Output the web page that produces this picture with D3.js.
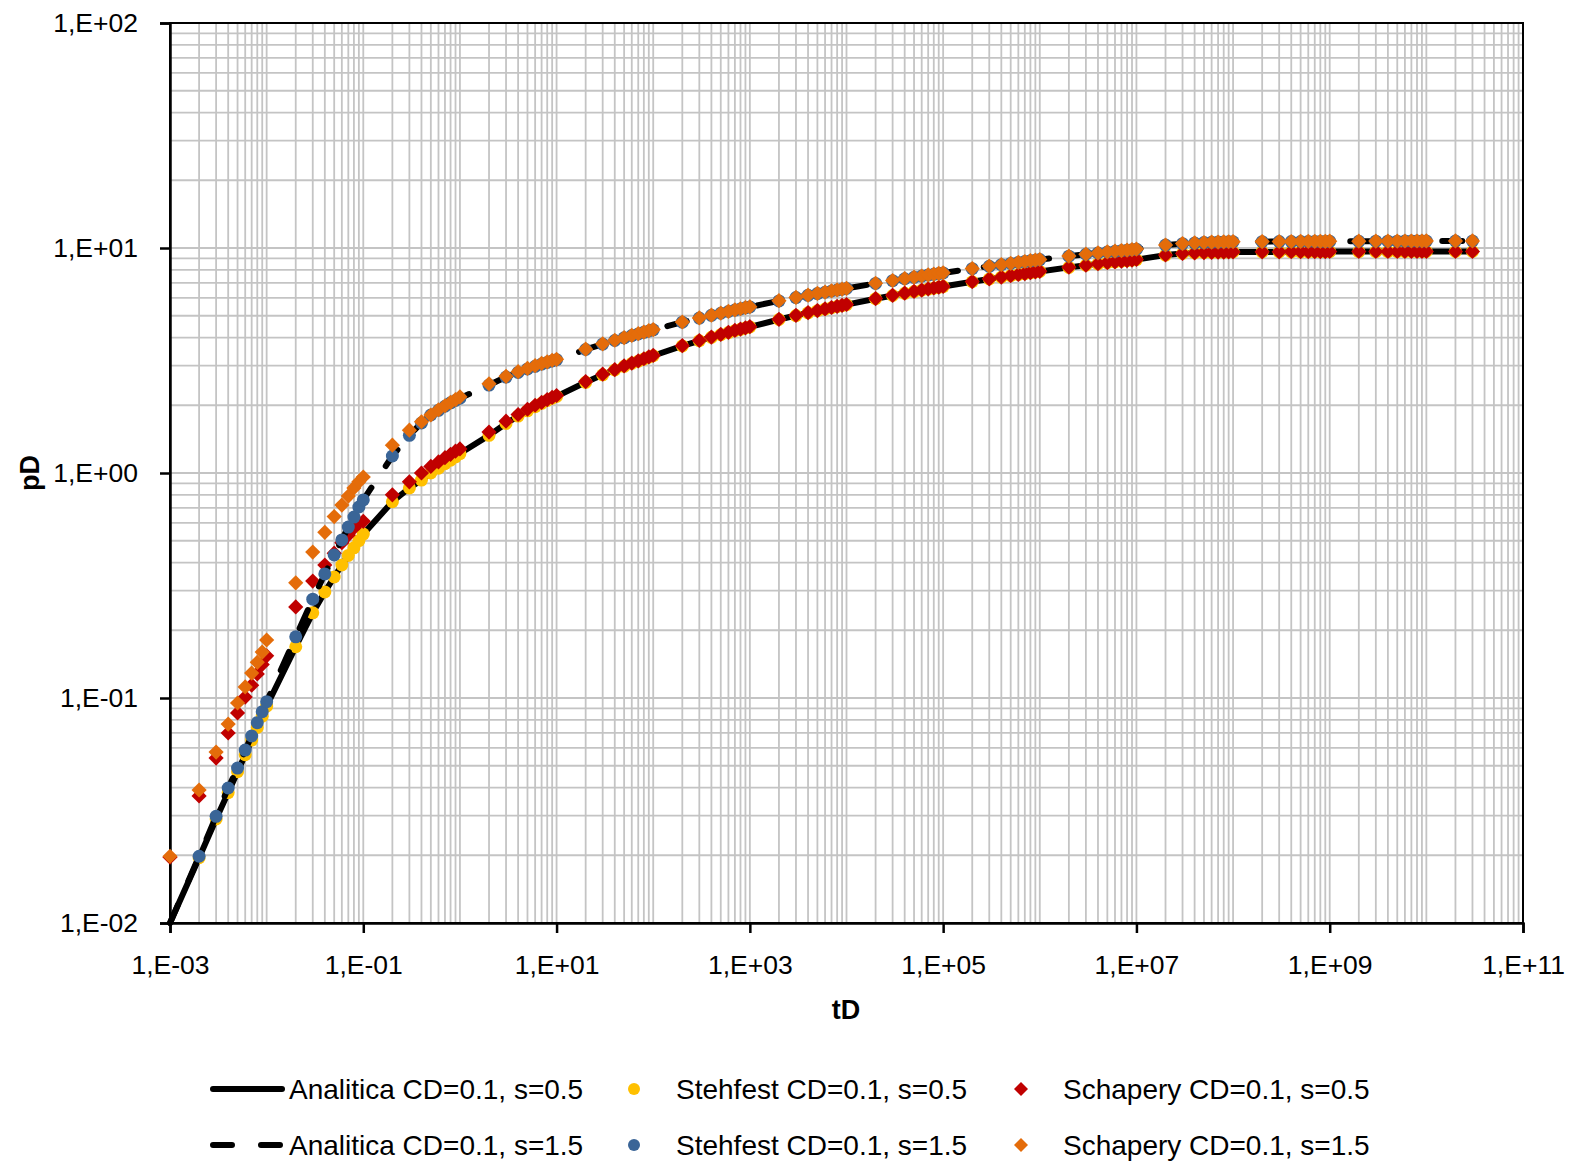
<!DOCTYPE html>
<html><head><meta charset="utf-8">
<script src="https://cdn.jsdelivr.net/npm/d3@7"></script>
<style>
body{margin:0;background:#fff}
svg{display:block}
text{font-family:'Liberation Sans',Arial,sans-serif;fill:#000}
</style></head>
<body><svg id="c" width="1577" height="1163"></svg>
<script>
// ---------- DATA ----------
const tD = [
 0.001,0.002,0.003,0.004,0.005,0.006,0.007,0.008,0.009,
 0.01,0.02,0.03,0.04,0.05,0.06,0.07,0.08,0.09,
 0.1,0.2,0.3,0.4,0.5,0.6,0.7,0.8,0.9,
 1,2,3,4,5,6,7,8,9,
 10,20,30,40,50,60,70,80,90,
 100,200,300,400,500,600,700,800,900,
 1e3,2e3,3e3,4e3,5e3,6e3,7e3,8e3,9e3,
 1e4,2e4,3e4,4e4,5e4,6e4,7e4,8e4,9e4,
 1e5,2e5,3e5,4e5,5e5,6e5,7e5,8e5,9e5,
 1e6,2e6,3e6,4e6,5e6,6e6,7e6,8e6,9e6,
 1e7,2e7,3e7,4e7,5e7,6e7,7e7,8e7,9e7,
 1e8,2e8,3e8,4e8,5e8,6e8,7e8,8e8,9e8,
 1e9,2e9,3e9,4e9,5e9,6e9,7e9,8e9,9e9,
 1e10,2e10,3e10
];

const analitica05 = [
 0.01,0.0195,0.029,0.038,0.047,0.056,0.065,0.074,0.083,
 0.092,0.169,0.239,0.296,0.345,0.39,0.43,0.465,0.50,
 0.535,0.745,0.858,0.93,1.0,1.05,1.10,1.14,1.18,
 1.22,1.47,1.66,1.79,1.89,1.97,2.04,2.10,2.15,
 2.19,2.53,2.73,2.87,2.98,3.07,3.14,3.21,3.27,
 3.32,3.67,3.87,4.01,4.12,4.21,4.29,4.35,4.41,
 4.46,4.81,5.01,5.15,5.26,5.35,5.43,5.49,5.55,
 5.60,5.95,6.15,6.29,6.40,6.49,6.57,6.63,6.69,
 6.74,7.08,7.28,7.42,7.53,7.62,7.69,7.76,7.82,
 7.87,8.20,8.38,8.50,8.60,8.67,8.73,8.78,8.83,
 8.88,9.30,9.45,9.50,9.53,9.55,9.57,9.58,9.59,
 9.60,9.61,9.61,9.62,9.62,9.62,9.63,9.63,9.63,
 9.64,9.64,9.64,9.64,9.64,9.64,9.65,9.65,9.65,
 9.65,9.65,9.65
];
const analitica15 = [
 0.01,0.0198,0.0298,0.0398,0.0488,0.0587,0.0678,0.0777,0.0869,
 0.0963,0.187,0.275,0.356,0.432,0.504,0.575,0.637,0.706,
 0.759,1.19,1.47,1.67,1.81,1.90,1.98,2.05,2.10,
 2.15,2.46,2.67,2.80,2.90,2.98,3.05,3.10,3.15,
 3.19,3.54,3.74,3.88,3.99,4.08,4.15,4.22,4.28,
 4.33,4.68,4.88,5.02,5.13,5.22,5.30,5.36,5.42,
 5.47,5.82,6.02,6.16,6.27,6.36,6.44,6.50,6.56,
 6.61,6.96,7.16,7.30,7.41,7.50,7.58,7.64,7.70,
 7.75,8.09,8.29,8.43,8.54,8.63,8.70,8.77,8.83,
 8.88,9.20,9.38,9.50,9.60,9.67,9.73,9.78,9.83,
 9.88,10.30,10.45,10.52,10.57,10.60,10.62,10.64,10.65,
 10.66,10.67,10.68,10.68,10.69,10.69,10.70,10.70,10.70,
 10.71,10.71,10.72,10.72,10.72,10.73,10.73,10.73,10.73,
 10.74,10.74,10.74
];
const stehfest05 = [
 null,0.0195,0.029,0.038,0.047,0.056,0.065,0.074,0.083,
 0.092,0.169,0.239,0.296,0.345,0.39,0.43,0.465,0.50,
 0.535,0.745,0.858,0.93,1.0,1.05,1.10,1.14,1.18,
 1.22,1.47,1.66,1.79,1.89,1.97,2.04,2.10,2.15,
 2.19,2.53,2.73,2.87,2.98,3.07,3.14,3.21,3.27,
 3.32,3.67,3.87,4.01,4.12,4.21,4.29,4.35,4.41,
 4.46,4.81,5.01,5.15,5.26,5.35,5.43,5.49,5.55,
 5.60,5.95,6.15,6.29,6.40,6.49,6.57,6.63,6.69,
 6.74,7.08,7.28,7.42,7.53,7.62,7.69,7.76,7.82,
 7.87,8.20,8.38,8.50,8.60,8.67,8.73,8.78,8.83,
 8.88,9.30,9.45,9.50,9.53,9.55,9.57,9.58,9.59,
 9.60,9.61,9.61,9.62,9.62,9.62,9.63,9.63,9.63,
 9.64,9.64,9.64,9.64,9.64,9.64,9.65,9.65,9.65,
 9.65,9.65,9.65
];
const stehfest15 = [
 null,0.0198,0.0298,0.0398,0.0488,0.0587,0.0678,0.0777,0.0869,
 0.0963,0.187,0.275,0.356,0.432,0.504,0.575,0.637,0.706,
 0.759,1.19,1.47,1.67,1.81,1.90,1.98,2.05,2.10,
 2.15,2.46,2.67,2.80,2.90,2.98,3.05,3.10,3.15,
 3.19,3.54,3.74,3.88,3.99,4.08,4.15,4.22,4.28,
 4.33,4.68,4.88,5.02,5.13,5.22,5.30,5.36,5.42,
 5.47,5.82,6.02,6.16,6.27,6.36,6.44,6.50,6.56,
 6.61,6.96,7.16,7.30,7.41,7.50,7.58,7.64,7.70,
 7.75,8.09,8.29,8.43,8.54,8.63,8.70,8.77,8.83,
 8.88,9.20,9.38,9.50,9.60,9.67,9.73,9.78,9.83,
 9.88,10.30,10.45,10.52,10.57,10.60,10.62,10.64,10.65,
 10.66,10.67,10.68,10.68,10.69,10.69,10.70,10.70,10.70,
 10.71,10.71,10.72,10.72,10.72,10.73,10.73,10.73,10.73,
 10.74,10.74,10.74
];
const schapery05 = [
 0.0196,0.0367,0.0541,0.0699,0.0858,0.101,0.114,0.128,0.141,
 0.154,0.254,0.331,0.39,0.44,0.49,0.53,0.57,0.60,
 0.61,0.80,0.914,1.0,1.07,1.12,1.17,1.21,1.25,
 1.28,1.52,1.70,1.82,1.92,2.00,2.06,2.12,2.17,
 2.21,2.55,2.75,2.88,2.99,3.08,3.15,3.22,3.28,
 3.33,3.68,3.88,4.02,4.13,4.22,4.30,4.36,4.42,
 4.47,4.82,5.02,5.16,5.27,5.36,5.44,5.50,5.56,
 5.61,5.96,6.16,6.30,6.41,6.50,6.58,6.64,6.70,
 6.75,7.09,7.29,7.43,7.54,7.63,7.70,7.77,7.83,
 7.88,8.21,8.39,8.51,8.61,8.68,8.74,8.79,8.84,
 8.89,9.31,9.46,9.51,9.54,9.56,9.58,9.59,9.60,
 9.61,9.62,9.62,9.63,9.63,9.63,9.64,9.64,9.64,
 9.65,9.65,9.65,9.65,9.65,9.65,9.66,9.66,9.66,
 9.66,9.66,9.66
];
const schapery15 = [
 0.0198,0.039,0.0575,0.0766,0.095,0.112,0.129,0.144,0.160,
 0.181,0.325,0.445,0.545,0.64,0.72,0.79,0.858,0.914,
 0.96,1.33,1.55,1.69,1.81,1.91,1.99,2.06,2.12,
 2.18,2.49,2.69,2.82,2.92,3.00,3.07,3.12,3.17,
 3.20,3.55,3.75,3.89,4.00,4.09,4.16,4.23,4.29,
 4.34,4.69,4.89,5.03,5.14,5.23,5.31,5.37,5.43,
 5.48,5.83,6.03,6.17,6.28,6.37,6.45,6.51,6.57,
 6.62,6.97,7.17,7.31,7.42,7.51,7.59,7.65,7.71,
 7.76,8.10,8.30,8.44,8.55,8.64,8.71,8.78,8.84,
 8.89,9.21,9.39,9.51,9.61,9.68,9.74,9.79,9.84,
 9.89,10.31,10.46,10.53,10.58,10.61,10.63,10.65,10.66,
 10.67,10.68,10.69,10.69,10.70,10.70,10.71,10.71,10.71,
 10.72,10.72,10.73,10.73,10.73,10.74,10.74,10.74,10.74,
 10.75,10.75,10.75
];

const xTickValues = [1e-3,1e-1,1e1,1e3,1e5,1e7,1e9,1e11];
const xTickLabels = ["1,E-03","1,E-01","1,E+01","1,E+03","1,E+05","1,E+07","1,E+09","1,E+11"];
const yTickValues = [1e-2,1e-1,1e0,1e1,1e2];
const yTickLabels = ["1,E-02","1,E-01","1,E+00","1,E+01","1,E+02"];

const seriesNames = ["Analitica CD=0.1, s=0.5","Stehfest CD=0.1, s=0.5","Schapery CD=0.1, s=0.5",
                     "Analitica CD=0.1, s=1.5","Stehfest CD=0.1, s=1.5","Schapery CD=0.1, s=1.5"];

// ---------- CHART ----------
const svg = d3.select("#c");
const L=170, R=1523, T=23, B=923;
const x = d3.scaleLog().domain([1e-3,1e11]).range([L,R]);
const y = d3.scaleLog().domain([1e-2,1e2]).range([B,T]);

const gridCol = "#c4c4c4";
const g = svg.append("g");
const xGrid = [];
for (let n=-3;n<=10;n++) for (let k=1;k<=9;k++) xGrid.push(k*Math.pow(10,n));
xGrid.push(1e11);
g.selectAll("line.vg").data(xGrid).enter().append("line")
  .attr("x1",d=>x(d)).attr("x2",d=>x(d)).attr("y1",T).attr("y2",B)
  .attr("stroke",gridCol).attr("stroke-width",1.8);
const yGrid = [];
for (let n=-2;n<=1;n++) for (let k=1;k<=9;k++) yGrid.push(k*Math.pow(10,n));
yGrid.push(1e2);
g.selectAll("line.hg").data(yGrid).enter().append("line")
  .attr("y1",d=>y(d)).attr("y2",d=>y(d)).attr("x1",L).attr("x2",R)
  .attr("stroke",gridCol).attr("stroke-width",1.8);

svg.append("rect").attr("x",L).attr("y",T).attr("width",R-L).attr("height",B-T)
  .attr("fill","none").attr("stroke","#000").attr("stroke-width",2);

const xAxis = d3.axisBottom(x).tickValues(xTickValues).tickSize(10).tickPadding(22)
  .tickFormat((d,i)=>xTickLabels[i]);
const gx = svg.append("g").attr("transform",`translate(0,${B})`).call(xAxis);
const yAxis = d3.axisLeft(y).tickValues(yTickValues).tickSize(10).tickPadding(22)
  .tickFormat((d,i)=>yTickLabels[i]);
const gy = svg.append("g").attr("transform",`translate(${L},0)`).call(yAxis);
[gx,gy].forEach(a=>{
  a.select(".domain").attr("stroke","#000").attr("stroke-width",2.5);
  a.selectAll(".tick line").attr("stroke","#000").attr("stroke-width",2.5);
  a.selectAll(".tick text").style("font-size","26.5px").style("font-family","'Liberation Sans',Arial,sans-serif");
});

svg.append("text").attr("x",846).attr("y",1010).attr("dy","0.35em").attr("text-anchor","middle")
  .style("font-size","27px").style("font-weight","bold").text("tD");
svg.append("text").attr("transform","translate(30,473) rotate(-90)").attr("dy","0.35em")
  .attr("text-anchor","middle").style("font-size","27px").style("font-weight","bold").text("pD");

const pts = arr => tD.map((t,i)=>({t, v:arr[i]})).filter(d=>d.v!=null);
const line = d3.line().x(d=>x(d.t)).y(d=>y(d.v));
const colYellow="#FFC000", colRed="#C00000", colBlue="#3A6597", colOrange="#E46C0A";
const diamond = (s)=>`M0,${-s}L${s},0L0,${s}L${-s},0Z`;
const R_C = 6.5, R_D = 7.6;

function drawLine(arr, dashed){
  svg.append("path").datum(pts(arr)).attr("d",line).attr("fill","none")
    .attr("stroke","#000").attr("stroke-width",6)
    .attr("stroke-linecap","round").attr("stroke-linejoin","round")
    .attr("stroke-dasharray",dashed?"20,26":null);
}
function drawCircles(arr,col){
  svg.append("g").selectAll("circle").data(pts(arr)).enter().append("circle")
    .attr("cx",d=>x(d.t)).attr("cy",d=>y(d.v)).attr("r",R_C).attr("fill",col);
}
function drawDiamonds(arr,col){
  svg.append("g").selectAll("path").data(pts(arr)).enter().append("path")
    .attr("transform",d=>`translate(${x(d.t)},${y(d.v)})`).attr("d",diamond(R_D)).attr("fill",col);
}
drawLine(analitica05,false);
drawCircles(stehfest05,colYellow);
drawDiamonds(schapery05,colRed);
drawLine(analitica15,true);
drawCircles(stehfest15,colBlue);
drawDiamonds(schapery15,colOrange);

const leg = svg.append("g");
const row1=1089, row2=1145;
leg.append("line").attr("x1",213).attr("x2",282).attr("y1",row1).attr("y2",row1)
  .attr("stroke","#000").attr("stroke-width",6).attr("stroke-linecap","round");
leg.append("line").attr("x1",213).attr("x2",282).attr("y1",row2).attr("y2",row2)
  .attr("stroke","#000").attr("stroke-width",6).attr("stroke-linecap","round").attr("stroke-dasharray","19,29");
leg.append("circle").attr("cx",634).attr("cy",row1).attr("r",6).attr("fill",colYellow);
leg.append("circle").attr("cx",634).attr("cy",row2).attr("r",6).attr("fill",colBlue);
leg.append("path").attr("transform",`translate(1021,${row1})`).attr("d",diamond(7)).attr("fill",colRed);
leg.append("path").attr("transform",`translate(1021,${row2})`).attr("d",diamond(7)).attr("fill",colOrange);
const legPos = [[289,row1],[676,row1],[1063,row1],[289,row2],[676,row2],[1063,row2]];
seriesNames.forEach((n,i)=>{
  leg.append("text").attr("x",legPos[i][0]).attr("y",legPos[i][1]).attr("dy","0.35em")
    .style("font-size","28px").text(n);
});
</script></body></html>
